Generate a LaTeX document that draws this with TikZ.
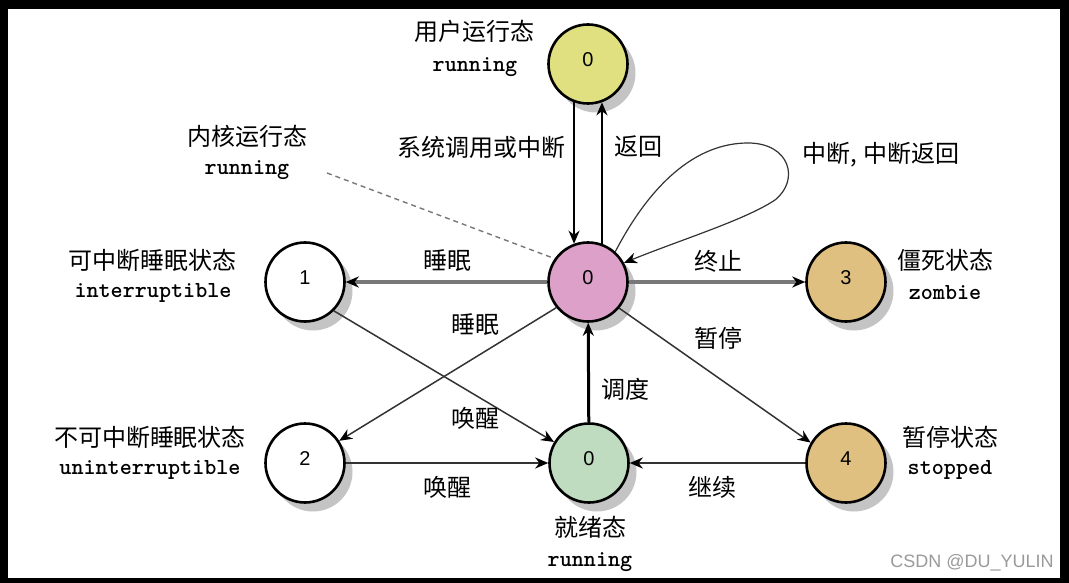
\documentclass[tikz,border=0pt]{standalone}
\usepackage{fontspec}
\setmainfont{Liberation Sans}
\newfontfamily\cjk{Noto Sans CJK SC}
\usetikzlibrary{arrows.meta,shadows}
\definecolor{cyel}{HTML}{E0E080}
\definecolor{cpink}{HTML}{DDA0C8}
\definecolor{cgreen}{HTML}{C0DCC0}
\definecolor{ctan}{HTML}{E0C080}
\definecolor{shadowgray}{HTML}{C4C4C4}
\definecolor{thickgray}{HTML}{787878}
\definecolor{thingray}{HTML}{333333}
\definecolor{wmgray}{HTML}{9A9A9A}
\begin{document}
\begin{tikzpicture}[x=1pt,y=-1pt,
  st/.style={circle,draw=black,line width=2.6pt,minimum size=79pt,inner sep=0pt,
    font=\fontsize{20}{20}\selectfont,text height=14.5pt,text depth=10pt,
    drop shadow={shadow xshift=8pt,shadow yshift=-9pt,fill=shadowgray,opacity=1}},
  zh/.style={font=\cjk\fontsize{24}{28}\selectfont,inner sep=0pt},
  en/.style={font=\ttfamily\bfseries\fontsize{23}{26}\selectfont,inner sep=0pt},
  tip/.style={-{Stealth[length=13pt,width=11pt,black]}},
  heavy/.style={tip,line width=3.5pt,draw=thickgray},
  thinl/.style={tip,line width=1.5pt,draw=thingray},
  midl/.style={tip,line width=2.4pt,draw=thingray},
  blk/.style={tip,line width=2pt,draw=black},
]
\fill[black] (0,0) rectangle (1069,583);
\fill[white] (8,9) rectangle (1060,578);

% states
\node[st,fill=cyel]   (u)  at (588,64)  {0};
\node[st,fill=cpink]  (k)  at (588,282) {0};
\node[st,fill=white]  (n1) at (305,282) {1};
\node[st,fill=ctan]   (n3) at (846,282) {3};
\node[st,fill=white]  (n2) at (305,463) {2};
\node[st,fill=cgreen] (r)  at (589,463) {0};
\node[st,fill=ctan]   (n4) at (846,463) {4};

% state names
\node[zh] (tu1) at (474,31)  {用户运行态};
\node[en] (tu2) at (475,67)  {running};
\node[zh] (tk1) at (247,136) {内核运行态};
\node[en] (tk2) at (247,170) {running};
\node[zh] (t11) at (152,260) {可中断睡眠状态};
\node[en] (t12) at (153,293) {interruptible};
\node[zh] (t21) at (150,437) {不可中断睡眠状态};
\node[en] (t22) at (150,470) {uninterruptible};
\node[zh] (t31) at (945,260) {僵死状态};
\node[en] (t32) at (945,293) {zombie};
\node[zh] (t41) at (950,437) {暂停状态};
\node[en] (t42) at (950,470) {stopped};
\node[zh] (tr1) at (590,527) {就绪态};
\node[en] (tr2) at (590,562) {running};

% connectors
\coordinate (dstart) at (327,173);
\draw[thickgray,line width=1.4pt,dash pattern=on 5pt off 4pt] (dstart) -- (k.145);
\draw[blk] (u.250) -- (k.110);
\draw[blk] (k.70) -- (u.290);
\draw[tip,line width=1.2pt,draw=thingray] (k.48) .. controls (650,185) and (695,143) .. (748,143)
  .. controls (790,143) and (800,180) .. (775,200)
  .. controls (745,220) and (680,240) .. (k.28);
\draw[heavy] (k) -- (n1);
\draw[heavy] (k) -- (n3);
\draw[thinl] (k.219) -- (n2.33);
\draw[thinl] (n1.-45) -- (r.149);
\draw[thinl] (k.-40) -- (n4.150);
\draw[tip,line width=3pt,draw=black] (r) -- (k);
\draw[midl] (n2) -- (r);
\draw[midl] (n4) -- (r);

% connector labels
\node[zh] (l1) at (481,147) {系统调用或中断};
\node[zh] (l2) at (638,147) {返回};
\node[zh] (l3) at (881,155) {中断, 中断返回};
\node[zh] (l4) at (447,261) {睡眠};
\node[zh] (l5) at (718,261) {终止};
\node[zh] (l6) at (475,325) {睡眠};
\node[zh] (l7) at (718,338) {暂停};
\node[zh] (l8) at (625,389) {调度};
\node[zh] (l9) at (475,418) {唤醒};
\node[zh] (l10) at (447,487) {唤醒};
\node[zh] (l11) at (712,487) {继续};

\node[font=\fontsize{18}{20}\selectfont,text=wmgray,inner sep=0pt] (wm) at (972,563) {CSDN @DU\_YULIN};
\end{tikzpicture}
\end{document}
